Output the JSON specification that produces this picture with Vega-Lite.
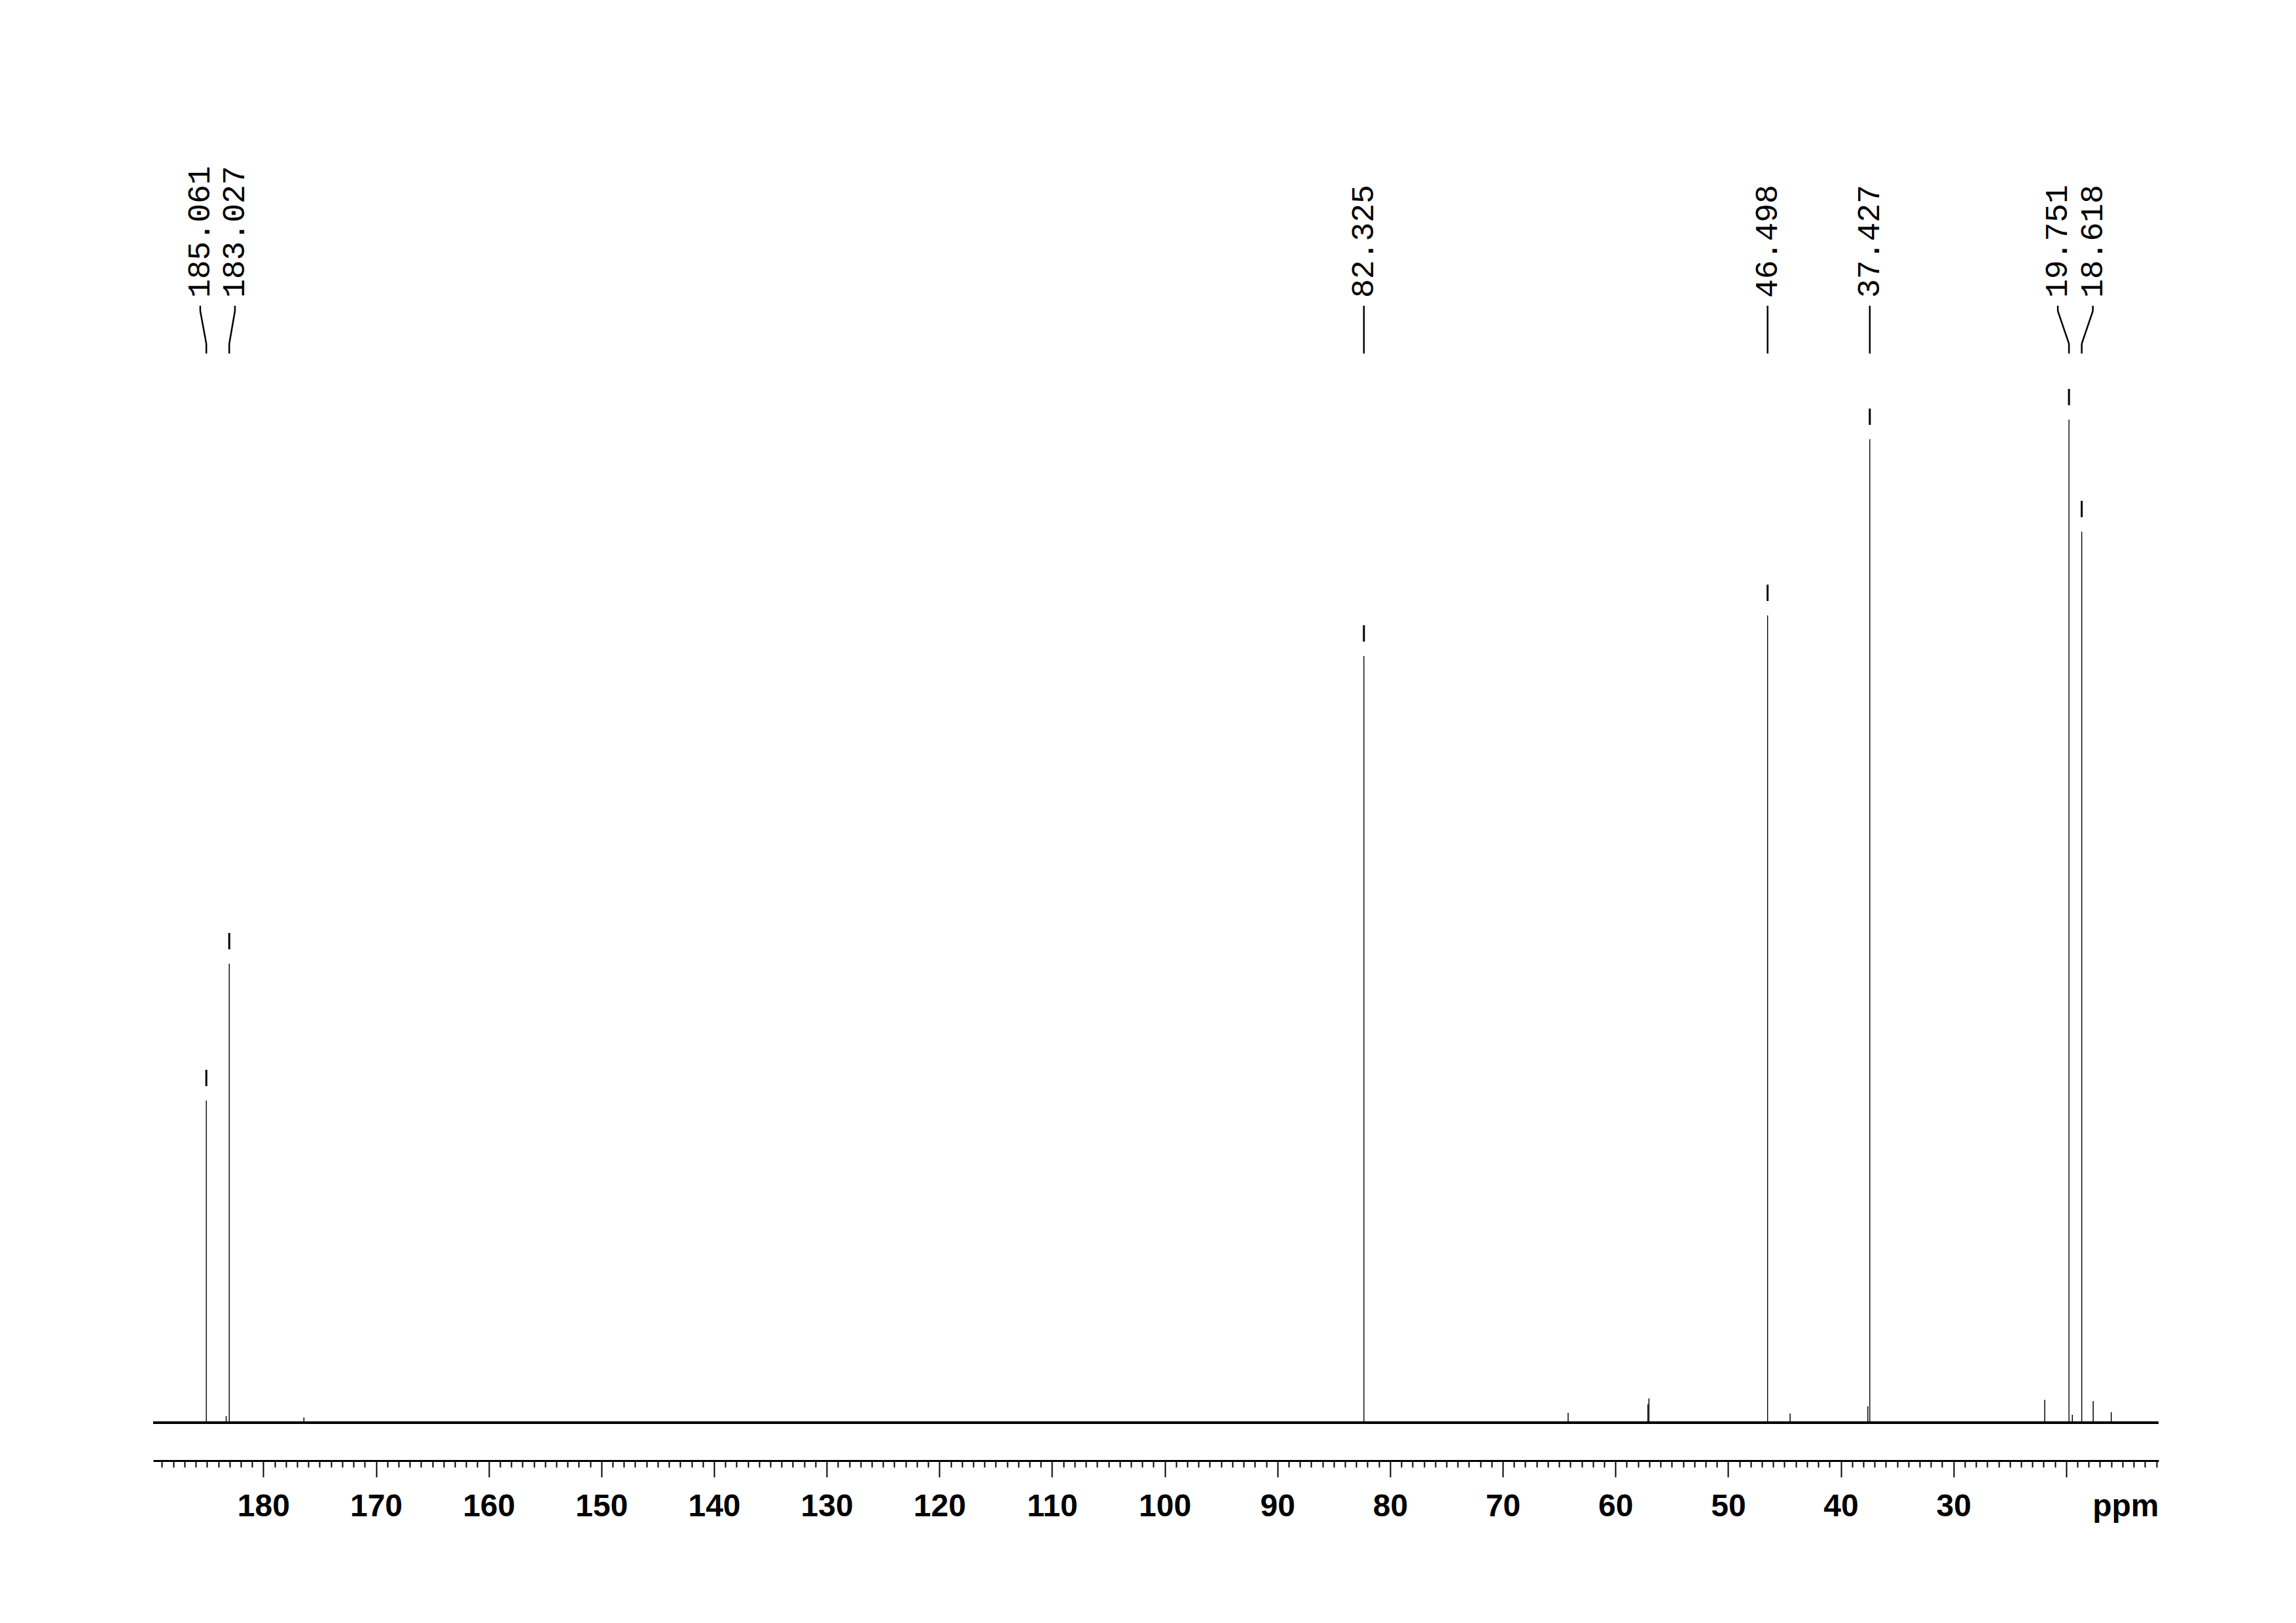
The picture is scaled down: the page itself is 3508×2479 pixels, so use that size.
{
  "$schema": "https://vega.github.io/schema/vega-lite/v6.json",
  "width": 3064,
  "height": 2031,
  "padding": {"left": 232, "top": 200, "right": 212, "bottom": 100},
  "background": "white",
  "config": {"view": {"stroke": null}, "aria": false},
  "datasets": {
    "peaks": [
      {"ppm": 185.061, "label": "185.061", "labelPpm": 185.60, "h": 492},
      {"ppm": 183.027, "label": "183.027", "labelPpm": 182.52, "h": 701},
      {"ppm": 82.325, "label": "82.325", "labelPpm": 82.325, "h": 1171},
      {"ppm": 46.498, "label": "46.498", "labelPpm": 46.498, "h": 1233},
      {"ppm": 37.427, "label": "37.427", "labelPpm": 37.427, "h": 1502},
      {"ppm": 19.751, "label": "19.751", "labelPpm": 20.74, "h": 1532},
      {"ppm": 18.618, "label": "18.618", "labelPpm": 17.63, "h": 1361}
    ],
    "small": [
      {"ppm": 183.3, "h": 10},
      {"ppm": 176.4, "h": 8},
      {"ppm": 64.2, "h": 15},
      {"ppm": 57.03, "h": 37},
      {"ppm": 57.12, "h": 28},
      {"ppm": 44.5, "h": 14},
      {"ppm": 37.6, "h": 25},
      {"ppm": 21.9, "h": 35},
      {"ppm": 19.45, "h": 12},
      {"ppm": 17.6, "h": 33},
      {"ppm": 16.0, "h": 16}
    ],
    "spectrum": [{"from": 189.78, "to": 11.8}]
  },
  "resolve": {"axis": {"x": "independent"}},
  "layer": [
    {
      "data": {"name": "spectrum"},
      "mark": {"type": "rule", "strokeWidth": 4, "color": "black", "aria": false},
      "encoding": {
        "x": {"field": "from", "type": "quantitative", "scale": {"domain": [11.8, 189.78], "reverse": true, "nice": false, "zero": false}, "axis": {
          "orient": "bottom",
          "values": [180,170,160,150,140,130,120,110,100,90,80,70,60,50,40,30,20],
          "format": "d",
          "labelExpr": "datum.value === 20 ? '' : datum.label",
          "tickSize": 25,
          "tickWidth": 2, "tickColor": "black",
          "domainColor": "black", "domainWidth": 3,
          "labelFont": "Liberation Sans", "labelFontWeight": "bold", "labelFontSize": 48, "labelColor": "black",
          "labelPadding": 21, "labelFlush": false, "labelOverlap": false, "labelBaseline": "top",
          "grid": false,
          "title": "ppm", "titleFont": "Liberation Sans", "titleFontWeight": "bold", "titleFontSize": 48, "titleColor": "black",
          "titleX": 3064, "titleY": 84, "titleAlign": "right", "titleBaseline": "alphabetic", "titleAnchor": "end", "titleAngle": 0
        }},
        "x2": {"field": "to"},
        "y": {"datum": 0, "type": "quantitative", "scale": {"domain": [-58, 1973], "nice": false, "zero": false}, "axis": null}
      }
    },
    {
      "data": {"name": "small"},
      "mark": {"type": "rule", "strokeWidth": 1.5, "color": "black", "aria": false},
      "encoding": {
        "x": {"field": "ppm", "type": "quantitative", "axis": {
          "orient": "bottom",
          "values": [189,188,187,186,185,184,183,182,181,179,178,177,176,175,174,173,172,171,169,168,167,166,165,164,163,162,161,159,158,157,156,155,154,153,152,151,149,148,147,146,145,144,143,142,141,139,138,137,136,135,134,133,132,131,129,128,127,126,125,124,123,122,121,119,118,117,116,115,114,113,112,111,109,108,107,106,105,104,103,102,101,99,98,97,96,95,94,93,92,91,89,88,87,86,85,84,83,82,81,79,78,77,76,75,74,73,72,71,69,68,67,66,65,64,63,62,61,59,58,57,56,55,54,53,52,51,49,48,47,46,45,44,43,42,41,39,38,37,36,35,34,33,32,31,29,28,27,26,25,24,23,22,21,19,18,17,16,15,14,13,12],
          "tickSize": 10, "tickWidth": 2, "tickColor": "black",
          "labels": false, "domain": false, "grid": false, "title": null
        }},
        "y": {"field": "h", "type": "quantitative", "axis": null},
        "y2": {"datum": 0}
      }
    },
    {
      "data": {"name": "peaks"},
      "mark": {"type": "rule", "strokeWidth": 1.4, "color": "black", "aria": false},
      "encoding": {
        "x": {"field": "ppm", "type": "quantitative", "axis": null},
        "y": {"field": "h", "type": "quantitative", "axis": null},
        "y2": {"datum": 0}
      }
    },
    {
      "data": {"name": "peaks"},
      "mark": {"type": "rule", "strokeWidth": 3, "color": "black", "yOffset": -22, "y2Offset": -47, "aria": false},
      "encoding": {
        "x": {"field": "ppm", "type": "quantitative", "axis": null},
        "y": {"field": "h", "type": "quantitative", "axis": null},
        "y2": {"field": "h"}
      }
    },
    {
      "data": {"name": "peaks"},
      "mark": {"type": "rule", "strokeWidth": 2.5, "color": "black", "aria": false},
      "encoding": {
        "x": {"field": "labelPpm", "type": "quantitative", "axis": null},
        "y": {"datum": 1706, "type": "quantitative", "axis": null},
        "y2": {"datum": 1698}
      }
    },
    {
      "data": {"name": "peaks"},
      "mark": {"type": "rule", "strokeWidth": 2.5, "color": "black", "aria": false},
      "encoding": {
        "x": {"field": "labelPpm", "type": "quantitative", "axis": null},
        "x2": {"field": "ppm"},
        "y": {"datum": 1698, "type": "quantitative", "axis": null},
        "y2": {"datum": 1648}
      }
    },
    {
      "data": {"name": "peaks"},
      "mark": {"type": "rule", "strokeWidth": 2.5, "color": "black", "aria": false},
      "encoding": {
        "x": {"field": "ppm", "type": "quantitative", "axis": null},
        "y": {"datum": 1648, "type": "quantitative", "axis": null},
        "y2": {"datum": 1633}
      }
    },
    {
      "data": {"name": "peaks"},
      "mark": {"type": "text", "angle": 270, "align": "left", "baseline": "middle", "font": "Liberation Mono", "fontSize": 48, "color": "black", "aria": false},
      "encoding": {
        "x": {"field": "labelPpm", "type": "quantitative", "axis": null},
        "y": {"datum": 1718, "type": "quantitative", "axis": null},
        "text": {"field": "label", "type": "nominal"}
      }
    }
  ]
}
